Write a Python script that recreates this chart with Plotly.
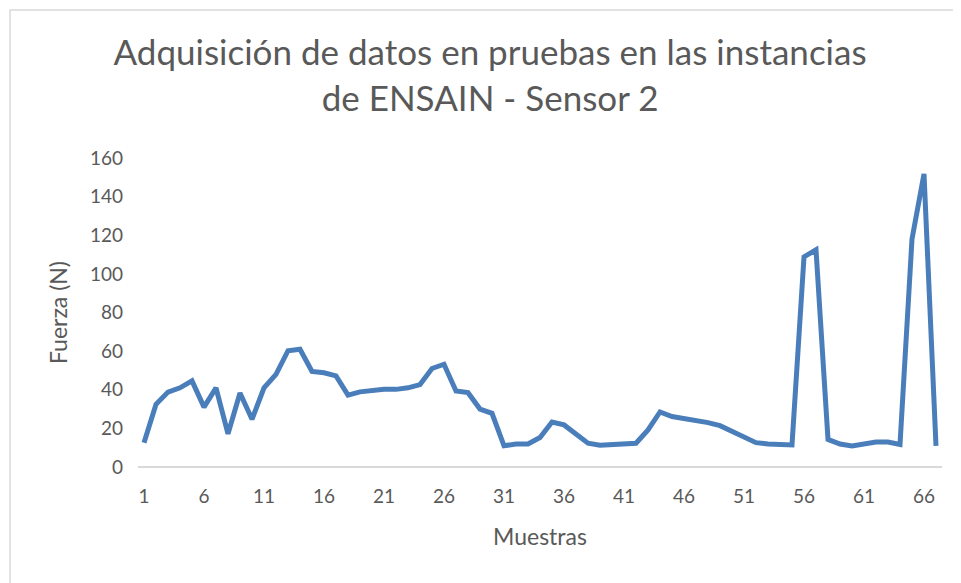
import plotly.graph_objects as go

# Muestras 1..67 y fuerza leída (N)
muestras = list(range(1, 68))
fuerza = [
    12.5, 32.5, 38.8, 41.0, 44.6, 31.0, 41.0, 17.2, 38.3, 24.7,
    41.0, 48.0, 60.2, 61.0, 49.5, 48.8, 47.2, 37.2, 38.9, 39.8,
    40.3, 40.2, 41.0, 42.7, 51.0, 53.2, 39.4, 38.5, 30.0, 27.8,
    11.0, 11.9, 11.9, 15.3, 23.3, 21.8, 17.4, 12.3, 11.3, 11.7,
    12.3, 12.3, 19.2, 28.5, 26.1, 25.2, 24.4, 23.0, 21.4, 18.7,
    15.8, 12.6, 11.9, 11.9, 11.4, 108.8, 112.5, 14.3, 11.9, 10.9,
    11.6, 12.9, 12.9, 11.7, 118.0, 151.8, 10.9,
]
x_ticks = list(range(1, 68, 5))
y_ticks = list(range(0, 161, 20))

GREY = "#595959"
FONT = "Lato"

fig = go.Figure(
    go.Scatter(
        x=muestras,
        y=fuerza,
        mode="lines",
        line=dict(color="#4a7ebb", width=5),
        hoverinfo="x+y",
    )
)

# the page body adds an 8px offset, margins compensate for it
fig.update_layout(
    width=961,
    height=583,
    margin=dict(l=130, r=27, t=150, b=124),
    paper_bgcolor="white",
    plot_bgcolor="white",
    showlegend=False,
    font=dict(family=FONT, color=GREY, size=19),
    title=dict(
        text="Adquisición de datos en pruebas en las instancias<br>de ENSAIN - Sensor 2",
        x=0.5016,
        xanchor="center",
        y=0.902,
        yanchor="middle",
        font=dict(family=FONT, size=35, color=GREY),
    ),
)

fig.update_xaxes(
    range=[0.5, 67.5],
    tickmode="array",
    tickvals=x_ticks,
    ticktext=[str(t) for t in x_ticks],
    showgrid=False,
    zeroline=False,
    showline=False,
    ticks="",
    ticklabelstandoff=16,
    title=dict(text="Muestras", font=dict(size=23, color=GREY), standoff=22),
)

fig.update_yaxes(
    range=[0, 160],
    tickmode="array",
    tickvals=y_ticks,
    showgrid=False,
    zeroline=True,
    zerolinecolor="#d9d9d9",
    zerolinewidth=1.5,
    showline=False,
    ticks="",
    ticklabelstandoff=14,
    title=dict(text="Fuerza (N)", font=dict(size=23, color=GREY), standoff=15),
)

# marco del gráfico (recortado a la derecha y abajo)
fig.add_shape(
    type="rect",
    xref="paper",
    yref="paper",
    x0=(2 - 130) / 804,
    x1=(975 - 130) / 804,
    y0=(459 - 600) / 309,
    y1=(459 - 2) / 309,
    line=dict(color="#d9d9d9", width=1.5),
    layer="below",
)

fig.write_html("out.html")
